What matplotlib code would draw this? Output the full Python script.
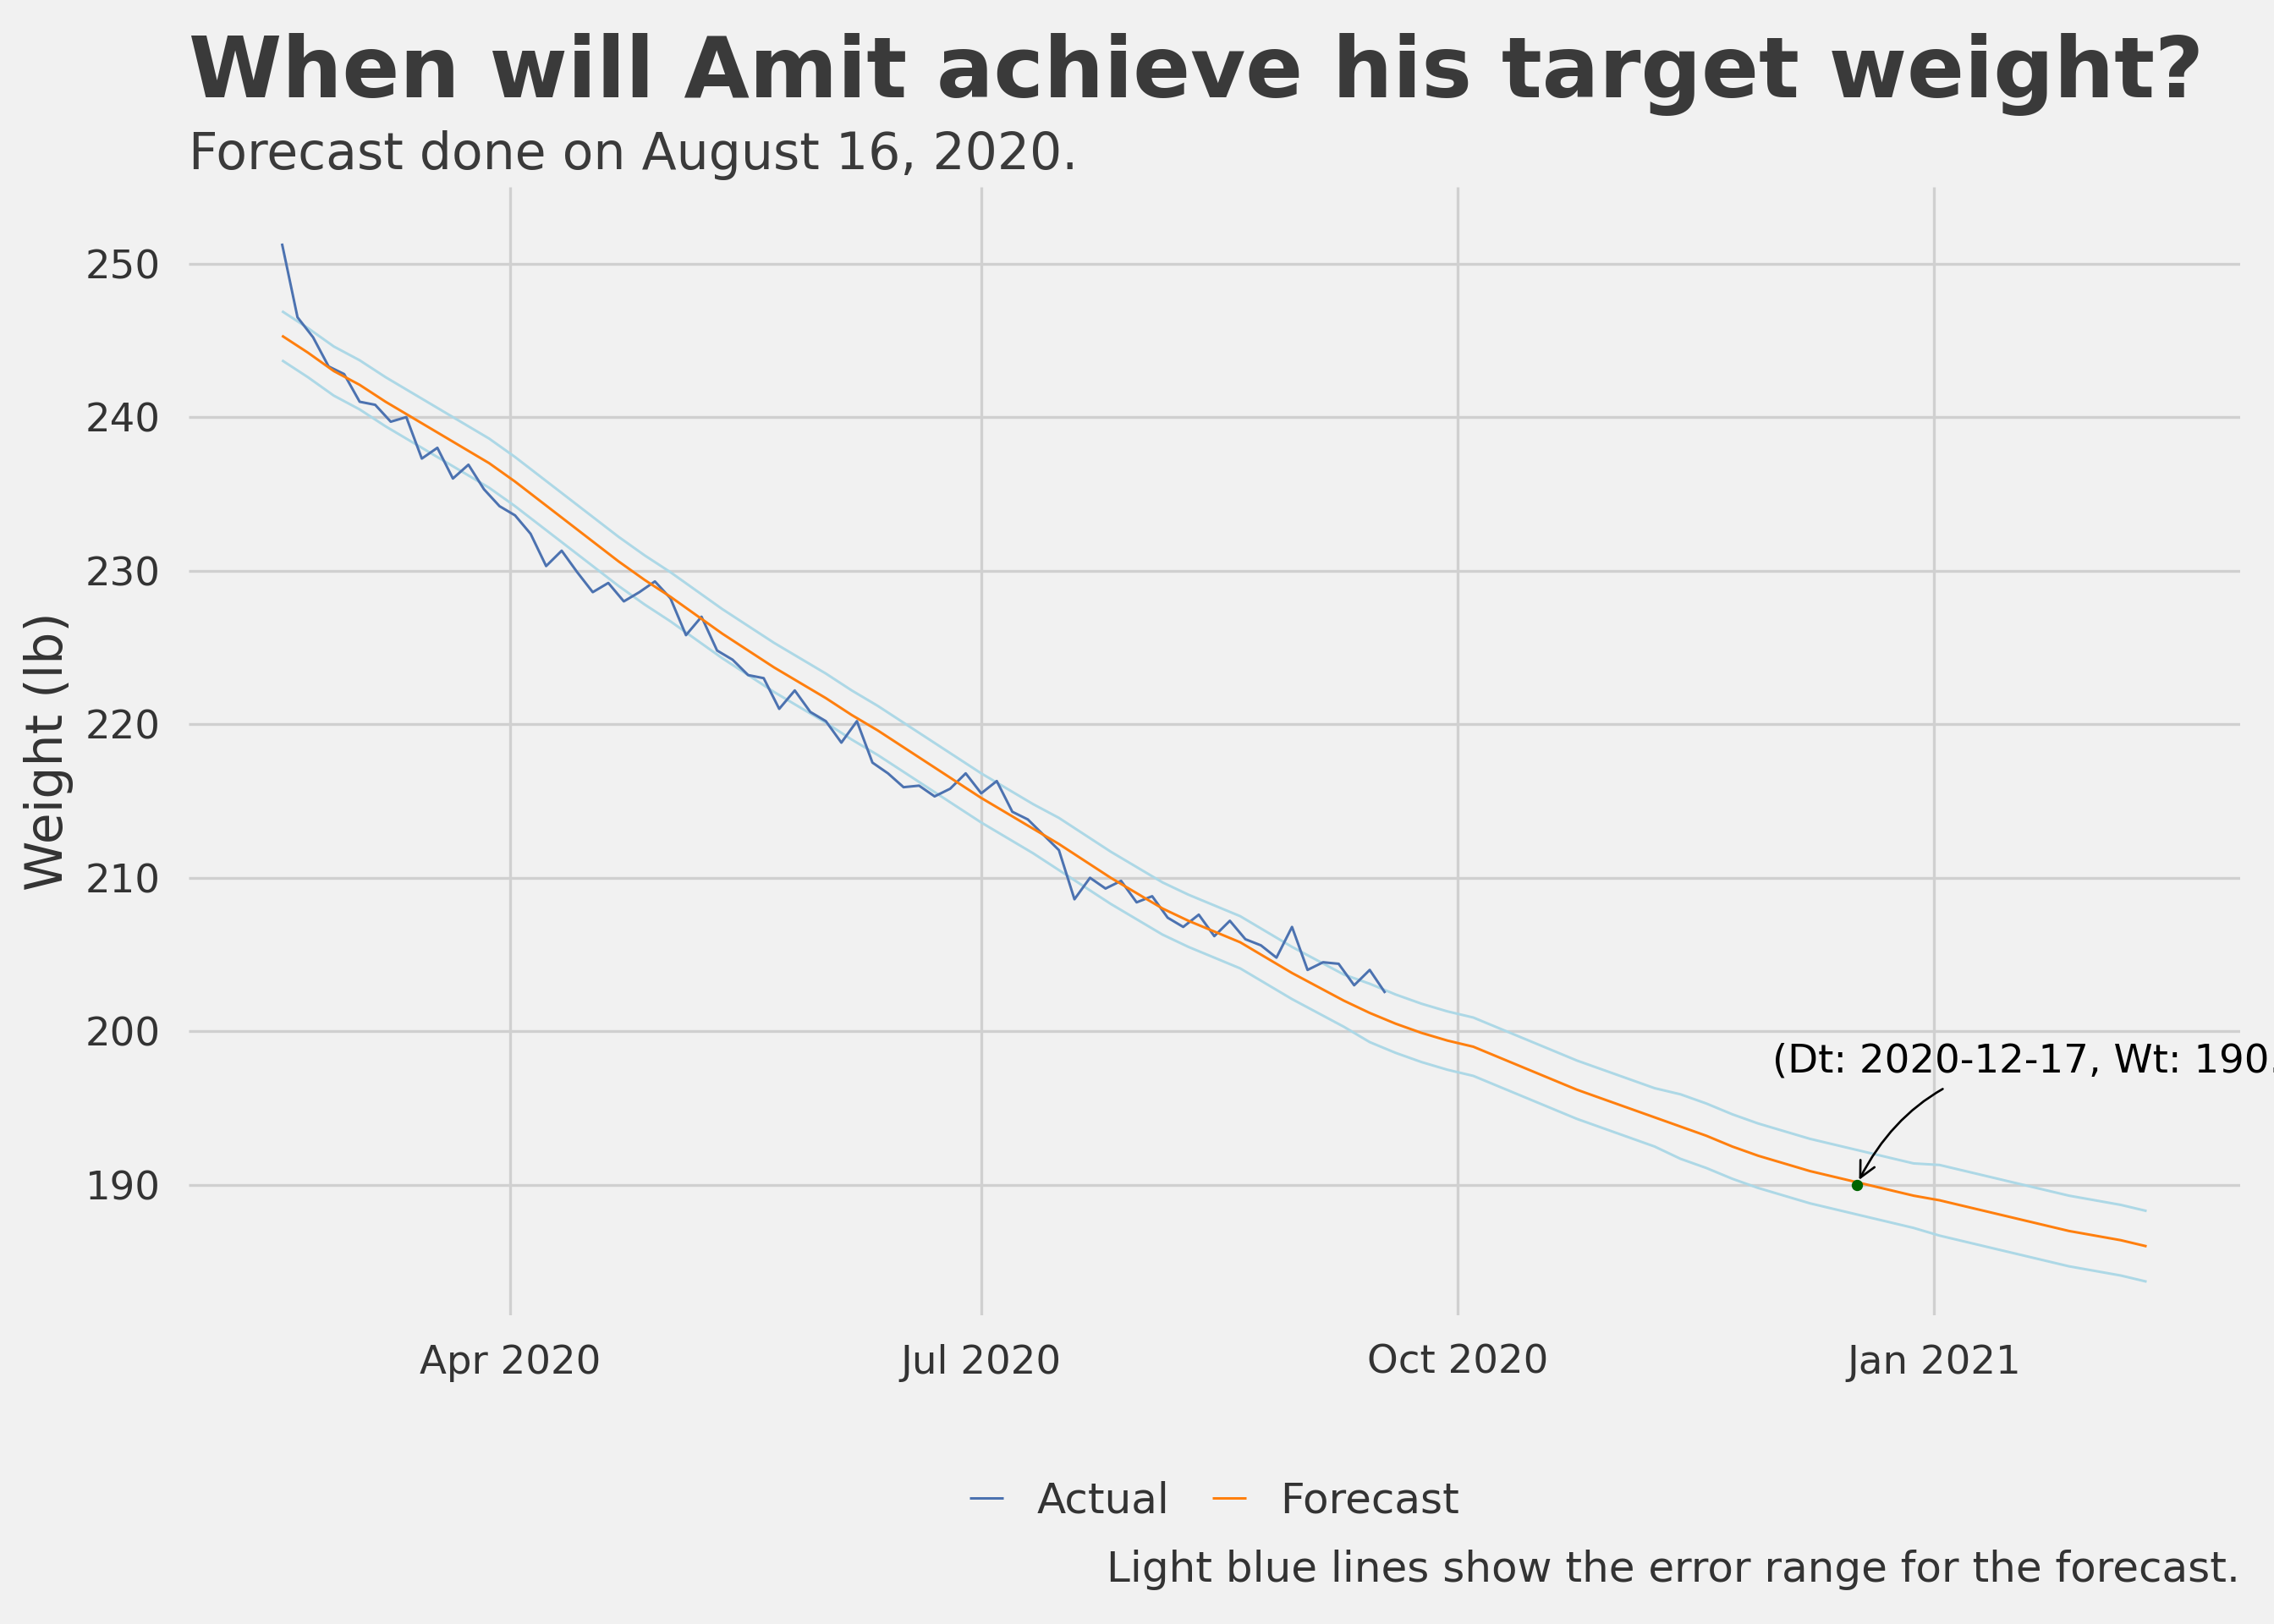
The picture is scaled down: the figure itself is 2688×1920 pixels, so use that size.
import numpy as np
import pandas as pd
import matplotlib
matplotlib.use('Agg')
from matplotlib import pyplot as plt
import matplotlib.dates as mdates

# forecast values, every 5 days from 2020-02-17
fc_vals = [245.3, 244.2, 243.0, 242.1, 241.0, 240.0, 239.0, 238.0, 237.0, 235.8,
           234.5, 233.2, 231.9, 230.6, 229.4, 228.3, 227.1, 225.9, 224.8, 223.7,
           222.7, 221.7, 220.6, 219.6, 218.5, 217.4, 216.3, 215.2, 214.2, 213.2,
           212.2, 211.1, 210.0, 209.0, 208.0, 207.2, 206.5, 205.8, 204.8, 203.8,
           202.9, 202.0, 201.2, 200.5, 199.9, 199.4, 199.0, 198.3, 197.6, 196.9,
           196.2, 195.6, 195.0, 194.4, 193.8, 193.2, 192.5, 191.9, 191.4, 190.9,
           190.5, 190.1, 189.7, 189.3, 189.0, 188.6, 188.2, 187.8, 187.4, 187.0,
           186.7, 186.4, 186.0]
fc_err = [1.6] * 30 + [1.7] * 12 + [1.9] * 12 + [2.1] * 10 + [2.3] * 9
fc_dates = pd.date_range('2020-02-17', periods=len(fc_vals), freq='5D')

# actual weights, every 3 days from 2020-02-17
act_vals = [251.3, 246.5, 245.2, 243.3, 242.8, 241.0, 240.8, 239.7, 240.0, 237.3,
            238.0, 236.0, 236.9, 235.3, 234.2, 233.6, 232.4, 230.3, 231.3, 229.9,
            228.6, 229.2, 228.0, 228.6, 229.3, 228.2, 225.8, 227.0, 224.8, 224.2,
            223.2, 223.0, 221.0, 222.2, 220.8, 220.2, 218.8, 220.2, 217.5, 216.8,
            215.9, 216.0, 215.3, 215.8, 216.8, 215.5, 216.3, 214.3, 213.8, 212.8,
            211.8, 208.6, 210.0, 209.3, 209.8, 208.4, 208.8, 207.4, 206.8, 207.6,
            206.2, 207.2, 206.0, 205.6, 204.8, 206.8, 204.0, 204.5, 204.4, 203.0,
            204.0, 202.5]
act_dates = pd.date_range('2020-02-17', periods=len(act_vals), freq='3D')

target_date = pd.Timestamp('2020-12-17')
target_wt = 190.0

plt.style.use('fivethirtyeight')
fig = plt.figure(figsize=(11.2, 8), dpi=240, facecolor='#f1f1f1')
ax = fig.add_axes([0.083, 0.19, 0.902, 0.695], facecolor='#f1f1f1')

fc = np.array(fc_vals)
err = np.array(fc_err)
ax.plot(fc_dates, fc + err, color='#add8e6', lw=0.9)
ax.plot(fc_dates, fc - err, color='#add8e6', lw=0.9)
ax.plot(act_dates, act_vals, color='#4c72b0', lw=0.9, label='Actual')
ax.plot(fc_dates, fc_vals, color='#ff7f0e', lw=0.9, label='Forecast')
ax.plot([target_date], [target_wt], 'o', color='darkgreen', ms=3)
ax.annotate('(Dt: 2020-12-17, Wt: 190.0)', xy=(target_date, target_wt),
            xytext=(-30, 40), textcoords='offset points', fontsize=14,
            arrowprops=dict(arrowstyle='->', connectionstyle='arc3,rad=0.3', color='black', lw=0.8),
            annotation_clip=False)

for s in ax.spines.values():
    s.set_visible(False)
ax.grid(color='#d0d0d0', lw=1)
ax.set_yticks([190, 200, 210, 220, 230, 240, 250])
ax.set_ylim(181.5, 255)
ax.set_xlim(pd.Timestamp('2020-01-30'), pd.Timestamp('2021-03-01'))
ax.xaxis.set_major_locator(mdates.MonthLocator(bymonth=[1, 4, 7, 10]))
ax.xaxis.set_major_formatter(mdates.DateFormatter('%b %Y'))
ax.tick_params(labelsize=14, colors='#333333', length=0, pad=10)
ax.set_ylabel('Weight (lb)', fontsize=18, color='#333333')

fig.text(0.083, 0.94, 'When will Amit achieve his target weight?', fontsize=30,
         fontweight='bold', color='#3a3a3a')
fig.text(0.083, 0.896, 'Forecast done on August 16, 2020.', fontsize=18, color='#3a3a3a')
ax.legend(loc='center', bbox_to_anchor=(0.5, -0.164), ncol=2, frameon=False,
          fontsize=15, handlelength=0.8, columnspacing=1.0, labelcolor='#333333')
fig.text(0.985, 0.026, 'Light blue lines show the error range for the forecast.',
         ha='right', fontsize=15, color='#333333')

fig.savefig('out.png', dpi=240, facecolor=fig.get_facecolor())
